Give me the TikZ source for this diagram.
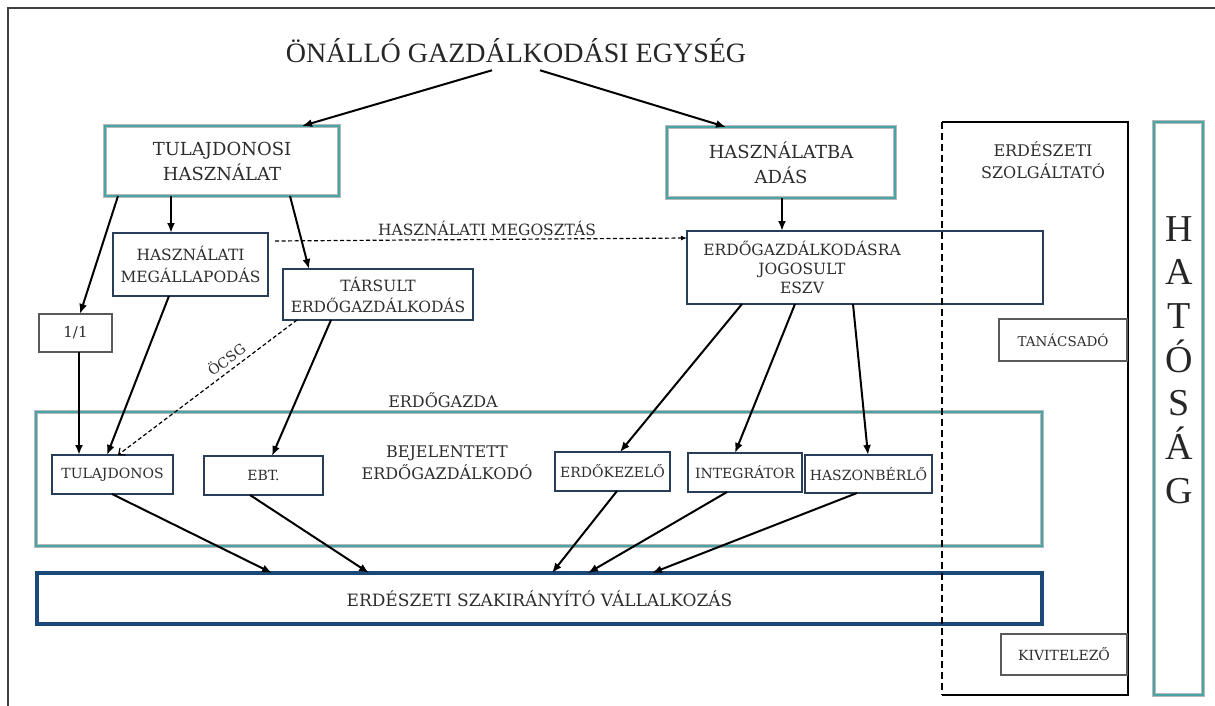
\documentclass[tikz,border=0pt]{standalone}
\usepackage{fontspec}
\usetikzlibrary{arrows.meta,calc}
\newfontfamily\boxfont{DejaVu Serif}
\newfontfamily\timesfont{Liberation Serif}
\newcommand\myfs[2]{\fontsize{#1}{#2}\selectfont}
\definecolor{tealc}{RGB}{72,165,165}
\definecolor{navyc}{RGB}{40,62,88}
\definecolor{szakc}{RGB}{28,72,120}
\definecolor{txt}{RGB}{45,45,45}
\tikzset{
  base box/.style={inner sep=0pt, outer sep=0pt, align=center, text=txt, font=\boxfont\myfs{16}{21}},
  tealbox/.style={base box, draw=tealc, line width=2pt, preaction={draw=black!28, line width=3.8pt}},
  navybox/.style={base box, draw=navyc, line width=2pt},
  szakbox/.style={base box, draw=szakc, line width=3.4pt},
  graybox/.style={base box, draw=black!65, line width=1.4pt},
  lbl/.style={inner sep=0pt, outer sep=0pt, align=center, text=txt, font=\boxfont\myfs{16}{21}},
  arr/.style={draw=black, line width=2pt, -{Latex[length=10pt,width=8pt]}},
  darr/.style={draw=black, line width=1.2pt, dash pattern=on 4pt off 2.5pt, -{Latex[length=6pt,width=5pt]}},
  darr2/.style={draw=black, line width=1.2pt, dash pattern=on 4pt off 2.5pt, -{Straight Barb[length=5pt,width=9pt]}},
}
\begin{document}
\begin{tikzpicture}[x=1pt,y=-1pt]
\useasboundingbox (0,0) rectangle (1215,706);
% frame
\draw[black!75, line width=1.8pt] (8,706) -- (8,8) -- (1215,8);

% title
\node[inner sep=0pt, outer sep=0pt, anchor=base, font=\timesfont\myfs{28}{30}, text=black!85] (title) at (516,63) {ÖNÁLLÓ GAZDÁLKODÁSI EGYSÉG};

% upper boxes
\node[tealbox, minimum width=234, minimum height=70, font=\boxfont\myfs{18}{25}] (th) at (222,161) {TULAJDONOSI\\HASZNÁLAT};
\node[tealbox, minimum width=228, minimum height=71, font=\boxfont\myfs{18}{25}] (ha) at (781,162.5) {HASZNÁLATBA\\ADÁS};
\node[navybox, minimum width=155, minimum height=63, font=\boxfont\myfs{15.5}{22}] (hm) at (190.5,264.5) {HASZNÁLATI\\MEGÁLLAPODÁS};
\node[navybox, minimum width=190, minimum height=51, font=\boxfont\myfs{15.5}{21}] (ta) at (378,294.5) {TÁRSULT\\ERDŐGAZDÁLKODÁS};
\node[navybox, minimum width=356, minimum height=73] (eje) at (865,267.5) {};
\node[lbl, font=\boxfont\myfs{15.5}{19}] (ejet) at (802,267) {ERDŐGAZDÁLKODÁSRA\\JOGOSULT\\ESZV};
\node[graybox, minimum width=73, minimum height=38, font=\boxfont\myfs{15}{18}] (one) at (75.5,333) {1/1};
\node[lbl, font=\boxfont\myfs{15.5}{19}] (megosztas) at (487,228) {HASZNÁLATI MEGOSZTÁS};

% erdogazda group
\node[lbl] (egl) at (443,400) {ERDŐGAZDA};
\node[tealbox, minimum width=1006, minimum height=134] (eg) at (539,479) {};
\node[navybox, minimum width=121, minimum height=39, font=\boxfont\myfs{14}{17}] (tul) at (112.5,474.5) {TULAJDONOS};
\node[navybox, minimum width=119, minimum height=39, font=\boxfont\myfs{14}{17}] (ebt) at (263.5,475.5) {EBT.};
\node[lbl, font=\boxfont\myfs{16}{22}] (bej) at (447,463) {BEJELENTETT\\ERDŐGAZDÁLKODÓ};
\node[navybox, minimum width=115, minimum height=39, font=\boxfont\myfs{14}{17}] (ek) at (612.5,471.5) {ERDŐKEZELŐ};
\node[navybox, minimum width=114, minimum height=39, font=\boxfont\myfs{14}{17}] (int) at (745,472.5) {INTEGRÁTOR};
\node[navybox, minimum width=127, minimum height=38, font=\boxfont\myfs{14}{17}] (hb) at (868.5,474) {HASZONBÉRLŐ};

% szakiranyito
\node[szakbox, minimum width=1005, minimum height=51, font=\boxfont\myfs{17}{20}] (szak) at (539.5,598.5) {ERDÉSZETI SZAKIRÁNYÍTÓ VÁLLALKOZÁS};

% erdeszeti szolgaltato region
\node[inner sep=0pt, outer sep=0pt, minimum width=186, minimum height=573] (esz) at (1035,408.5) {};
\draw[black, line width=2.6pt] (esz.north west) -- (esz.north east) -- (esz.south east) -- (esz.south west);
\draw[black, line width=2.6pt, dash pattern=on 7pt off 4pt] (esz.north west) -- (esz.south west);
\node[lbl, font=\boxfont\myfs{16}{22}] (eszt) at (1043,160) {ERDÉSZETI\\SZOLGÁLTATÓ};
\node[graybox, minimum width=128, minimum height=42, font=\boxfont\myfs{13.5}{16}] (tan) at (1063,340) {TANÁCSADÓ};
\node[graybox, minimum width=126, minimum height=41, font=\boxfont\myfs{14}{17}] (kiv) at (1064,654.5) {KIVITELEZŐ};

% hatosag
\node[tealbox, minimum width=49, minimum height=573] (hat) at (1178.5,408.5) {};
\foreach \l [count=\i] in {H,A,T,Ó,S,Á,G}
  \node[inner sep=0pt, anchor=base, font=\timesfont\myfs{38}{40}, text=black!85] (h\i) at (1179,{241+(\i-1)*43.7}) {\l};

% arrows
\draw[arr] ($(title.south)+(-24,7)$) -- ($(th.north west)+(197,0)$);
\draw[arr] ($(title.south)+(24,7)$) -- ($(ha.north west)+(59,0)$);
\draw[arr] ($(th.south west)+(13,0)$) -- ($(one.north west)+(41,0)$);
\draw[arr] ($(th.south west)+(66,0)$) -- ($(hm.north west)+(58,0)$);
\draw[arr] ($(th.south west)+(185,0)$) -- ($(ta.north west)+(26,0)$);
\draw[arr] ($(ha.south west)+(115,0)$) -- ($(eje.north west)+(95,0)$);
\draw[darr] ($(hm.north east)+(7,8)$) -- ($(eje.north west)+(0,7)$);
\draw[arr] ($(one.south west)+(40,0)$) -- ($(tul.north west)+(27,0)$);
\draw[arr] ($(hm.south west)+(56,0)$) -- ($(tul.north west)+(55,0)$);
\draw[darr2] ($(ta.south west)+(14,0)$) -- ($(tul.north west)+(66,0)$);
\node[lbl, rotate=37, font=\boxfont\myfs{14}{16}] (ocsg) at (226,359) {ÖCSG};
\draw[arr] ($(ta.south west)+(48,0)$) -- ($(ebt.north west)+(68,0)$);
\draw[arr] ($(eje.south west)+(55,0)$) -- ($(ek.north west)+(65,0)$);
\draw[arr] ($(eje.south west)+(108,0)$) -- ($(int.north west)+(47,0)$);
\draw[arr] ($(eje.south west)+(166,0)$) -- ($(hb.north west)+(63,0)$);
\draw[arr] ($(tul.south west)+(60,0)$) -- ($(szak.north west)+(235,0)$);
\draw[arr] ($(ebt.south west)+(46,0)$) -- ($(szak.north west)+(332,0)$);
\draw[arr] ($(ek.south west)+(62,0)$) -- ($(szak.north west)+(515,0)$);
\draw[arr] ($(int.south west)+(39,0)$) -- ($(szak.north west)+(551,0)$);
\draw[arr] ($(hb.south west)+(52,0)$) -- ($(szak.north west)+(615,0)$);
\end{tikzpicture}
\end{document}
